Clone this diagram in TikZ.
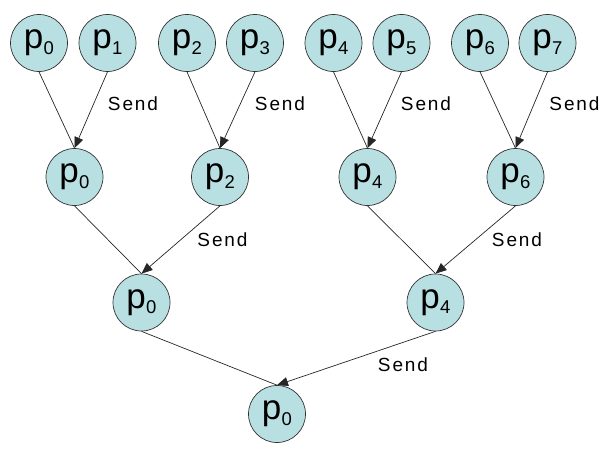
\documentclass[tikz,border=0pt]{standalone}
\usepackage{fontspec}
\setmainfont{Liberation Sans}
\newfontfamily\sendfont[LetterSpace=10]{Liberation Sans}
\usetikzlibrary{arrows.meta}
\definecolor{nodefill}{RGB}{184,224,226}
\newcommand{\pn}[1]{p\kern0.3pt\raisebox{-5.5pt}{\fontsize{18.5}{18.5}\selectfont #1}}
\begin{document}
\begin{tikzpicture}[x=1pt,y=-1pt,
  proc/.style={circle, draw=black!80, fill=nodefill, minimum size=57pt, inner sep=0pt,
    font=\fontsize{35}{35}\selectfont, line width=0.7pt},
  link/.style={draw=black!85, line width=0.7pt},
  sendlink/.style={link, -{Triangle[length=11pt,width=9pt]}},
  lbl/.style={font=\sendfont\fontsize{19}{19}\selectfont, inner sep=0pt}]
\useasboundingbox (0,0) rectangle (610,455);
% level 0
\node[proc] (a0) at (39,43) {\pn{0}};
\node[proc] (a1) at (107.5,43) {\pn{1}};
\node[proc] (a2) at (187,43) {\pn{2}};
\node[proc] (a3) at (255,43) {\pn{3}};
\node[proc] (a4) at (333.5,43) {\pn{4}};
\node[proc] (a5) at (401.5,43) {\pn{5}};
\node[proc] (a6) at (480,43) {\pn{6}};
\node[proc] (a7) at (547.5,43) {\pn{7}};
% level 1
\node[proc] (b0) at (74.5,177) {\pn{0}};
\node[proc] (b2) at (220,177) {\pn{2}};
\node[proc] (b4) at (367.5,177) {\pn{4}};
\node[proc] (b6) at (515.5,177) {\pn{6}};
% level 2
\node[proc] (c0) at (141.5,302.5) {\pn{0}};
\node[proc] (c4) at (435.5,302.5) {\pn{4}};
% level 3
\node[proc] (d0) at (277,414) {\pn{0}};
% connectors
\draw[link] (a0.south) -- (b0.north);
\draw[sendlink] (a1.south) -- (b0.north);
\draw[link] (a2.south) -- (b2.north);
\draw[sendlink] (a3.south) -- (b2.north);
\draw[link] (a4.south) -- (b4.north);
\draw[sendlink] (a5.south) -- (b4.north);
\draw[link] (a6.south) -- (b6.north);
\draw[sendlink] (a7.south) -- (b6.north);
\draw[link] (b0.south) -- (c0.north);
\draw[sendlink] (b2.south) -- (c0.north);
\draw[link] (b4.south) -- (c4.north);
\draw[sendlink] (b6.south) -- (c4.north);
\draw[link] (c0.south) -- (d0.north);
\draw[sendlink] (c4.south) -- (d0.north);
% labels
\node[lbl] (s1) at (133,104) {Send};
\node[lbl] (s2) at (280,104) {Send};
\node[lbl] (s3) at (426,104) {Send};
\node[lbl] (s4) at (574.5,104) {Send};
\node[lbl] (s5) at (222.5,240) {Send};
\node[lbl] (s6) at (517,240) {Send};
\node[lbl] (s7) at (403,365) {Send};
\end{tikzpicture}
\end{document}
